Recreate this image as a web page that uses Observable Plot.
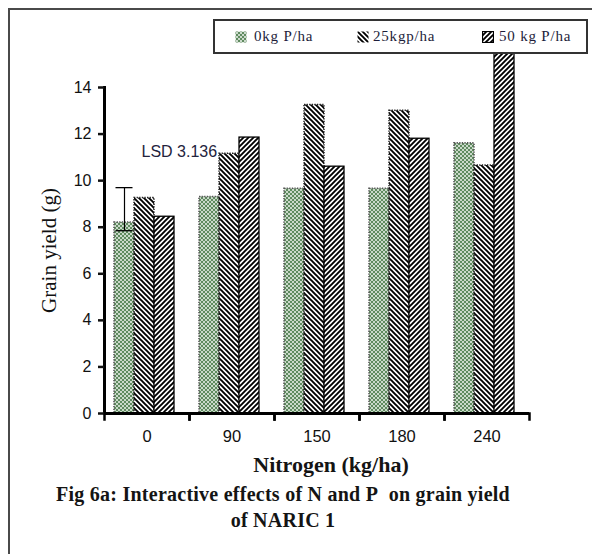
<!DOCTYPE html>
<html><head><meta charset="utf-8">
<script src="https://cdn.jsdelivr.net/npm/d3@7"></script>
<script src="https://cdn.jsdelivr.net/npm/@observablehq/plot@0.6"></script>
<style>
html,body{margin:0;padding:0;background:#fff}
body{width:592px;height:554px;overflow:hidden;position:relative;font-family:"Liberation Serif","Times New Roman",serif}
#outer{position:absolute;left:8px;top:8px;width:700px;height:700px;border-left:2px solid #4a4a4a;border-top:2px solid #4a4a4a}
#chart{position:absolute;left:0;top:0}
#legend{position:absolute;left:213px;top:19px;width:371px;height:31px;border:2px solid #333;background:#fff;color:#1d1d3a;font-size:15px;letter-spacing:0.8px}
#legend .it{position:absolute;top:0;height:31px;line-height:31px;white-space:nowrap}
#legend svg{position:absolute}
#xtitle{position:absolute;left:331px;top:454px;transform:translateX(-50%);font-weight:bold;font-size:22px;line-height:22px;color:#141414;white-space:nowrap}
.cap{position:absolute;left:283px;transform:translateX(-50%);font-weight:bold;font-size:20px;line-height:26px;color:#141414;white-space:nowrap;letter-spacing:0.25px}
</style></head>
<body>
<svg width="0" height="0" style="position:absolute">
 <defs>
  <pattern id="pGreen" patternUnits="userSpaceOnUse" width="4" height="4">
   <rect width="4" height="4" fill="#5f8a5f"/>
   <path d="M0,0 L4,4 M0,4 L4,0" stroke="#e6eee6" stroke-width="0.8"/>
  </pattern>
  <pattern id="pBack" patternUnits="userSpaceOnUse" width="5" height="5">
   <rect width="5" height="5" fill="#fff"/>
   <path d="M-1,-1 L6,6 M-1,4 L1,6 M4,-1 L6,1" stroke="#000" stroke-width="1.9"/>
  </pattern>
  <pattern id="pFwd" patternUnits="userSpaceOnUse" width="5" height="5">
   <rect width="5" height="5" fill="#fff"/>
   <path d="M-1,6 L6,-1 M-1,1 L1,-1 M4,6 L6,4" stroke="#000" stroke-width="1.9"/>
  </pattern>
 </defs>
</svg>
<div id="outer"></div>
<div id="chart"></div>
<div id="legend"></div>
<div id="xtitle">Nitrogen (kg/ha)</div>
<div class="cap" style="top:481px">Fig 6a: Interactive effects of N and P&nbsp; on grain yield</div>
<div class="cap" style="top:507px">of NARIC 1</div>
<script>
// ---- data ----
const nitrogen = ["0", "90", "150", "180", "240"];
const series = ["0kg P/ha", "25kgp/ha", "50 kg P/ha"];
const p0  = [8.2, 9.3, 9.65, 9.65, 11.6];
const p25 = [9.25, 11.15, 13.25, 13.0, 10.65];
const p50 = [8.45, 11.85, 10.6, 11.8, 15.8];
const yTicks = [0, 2, 4, 6, 8, 10, 12, 14];
const lsdGroup = ["0"];
const lsdSeries = ["0kg P/ha"];
const lsdRange = [7.85, 9.7];
const lsdLabel = ["LSD 3.136"];
const lsdLabelY = [11.25];

const fills = ["url(#pGreen)", "url(#pBack)", "url(#pFwd)"];
const values = [p0, p25, p50];
const rows = nitrogen.flatMap((n, i) => series.map((s, j) => ({n, s, v: values[j][i]})));
const lsdRows = [{n: lsdGroup[0], s: lsdSeries[0], lo: lsdRange[0], hi: lsdRange[1]}];
const lsdCaps = lsdRange.map(v => ({n: lsdGroup[0], s: lsdSeries[0], v}));
const lsdText = [{n: lsdGroup[0], s: series[1], y: lsdLabelY[0], t: lsdLabel[0]}];

const W = 592, H = 450, mT = 87, mB = 37;
const plotH = H - mT - mB;

const chart = Plot.plot({
  width: W, height: H,
  marginLeft: 103, marginRight: 62, marginTop: mT, marginBottom: mB,
  style: {background: "transparent", overflow: "visible", color: "#111"},
  fx: {domain: nitrogen, padding: 0, axis: null},
  x: {domain: series, paddingInner: 0, paddingOuter: 0.6, align: 0.41, axis: null},
  y: {domain: [0, 14], axis: null},
  marks: [
    Plot.barY(rows.filter(d => d.s === series[0]), {fx: "n", x: "s", y: "v", fill: fills[0], stroke: "#555", strokeWidth: 1.6, strokeDasharray: "1.3 1.3"}),
    Plot.barY(rows.filter(d => d.s === series[1]), {fx: "n", x: "s", y: "v", fill: fills[1], stroke: "#222", strokeWidth: 1.5, strokeDasharray: "1.3 1.3"}),
    Plot.barY(rows.filter(d => d.s === series[2]), {fx: "n", x: "s", y: "v", fill: fills[2], stroke: "#000", strokeWidth: 1.3}),
    Plot.ruleX(lsdRows, {fx: "n", x: "s", y1: "lo", y2: "hi", stroke: "#000", strokeWidth: 1.2}),
    Plot.tickY(lsdCaps, {fx: "n", x: "s", y: "v", stroke: "#000", strokeWidth: 1.3, insetLeft: 1.5, insetRight: 1.5}),
    Plot.text(lsdText, {fx: "n", x: "s", y: "y", text: "t", textAnchor: "start", dx: -3, fontSize: 16, fontFamily: "Liberation Sans, Arial, sans-serif", fill: "#23233d"}),
    Plot.ruleY([0], {stroke: "#000", strokeWidth: 3}),
    Plot.frame({anchor: "left", facetAnchor: "left", stroke: "#000", strokeWidth: 3}),
    Plot.frame({anchor: "left", insetTop: plotH, insetBottom: -6, stroke: "#000", strokeWidth: 2.5}),
    Plot.frame({anchor: "right", insetTop: plotH, insetBottom: -6, stroke: "#000", strokeWidth: 2.5}),
    Plot.axisY(yTicks, {tickSize: 6, tickPadding: 7, strokeWidth: 2.5, fontSize: 16, fontFamily: "Liberation Sans, Arial, sans-serif", label: null}),
    Plot.axisY({ticks: [], tickSize: 0, label: "Grain yield (g)", labelAnchor: "center", labelArrow: "none", labelOffset: 63, fontSize: 21, fontFamily: "Liberation Serif, Times New Roman, serif"}),
    Plot.axisFx({anchor: "bottom", tickSize: 0, tickPadding: 17, fontSize: 16.5, fontFamily: "Liberation Sans, Arial, sans-serif", label: null})
  ]
});
document.getElementById("chart").appendChild(chart);

// legend
const legend = d3.select("#legend");
const items = [
  {sw: 20, tx: 39, sSw: null},
  {sw: 142, tx: 158, sSw: null},
  {sw: 267, tx: 284, sSw: "#000"}
];
series.forEach((s, i) => {
  const it = items[i];
  const svg = legend.append("svg").attr("width", 12).attr("height", 12)
    .style("left", it.sw + "px").style("top", "10px");
  svg.append("rect").attr("x", 0.5).attr("y", 0.5).attr("width", 11).attr("height", 11)
    .attr("fill", fills[i]).attr("stroke", it.sSw || "none").attr("stroke-width", 1.2);
  legend.append("div").attr("class", "it").style("left", it.tx + "px").text(s);
});
</script>
</body></html>
